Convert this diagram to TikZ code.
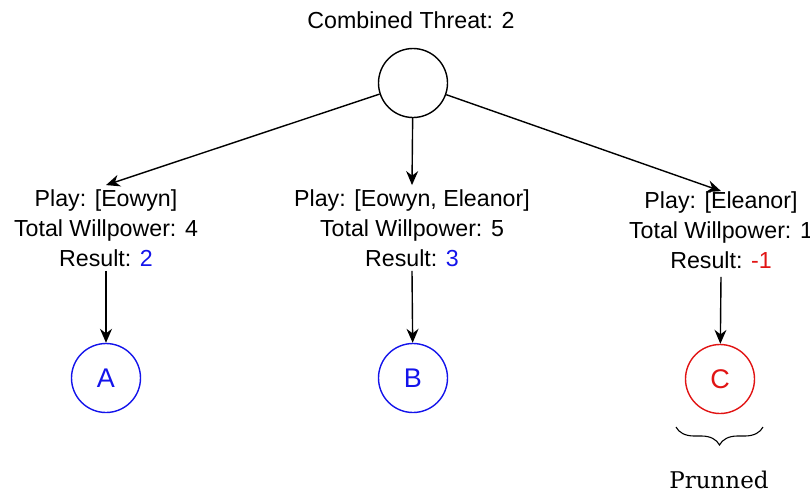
\documentclass[tikz,border=0pt]{standalone}
\usepackage{fontspec}
\setmainfont{Liberation Sans}
\newfontfamily\notefont{DejaVu Serif}
\usetikzlibrary{arrows.meta,decorations.pathreplacing}
\definecolor{resblue}{RGB}{20,20,235}
\definecolor{resred}{RGB}{225,20,20}
\tikzset{
  choice/.style={circle,draw,line width=0.7pt,minimum size=34.5pt,inner sep=0pt,font=\fontsize{13.5}{15}\selectfont},
  info/.style={align=center,inner sep=2pt,font=\fontsize{11.6}{15}\selectfont},
  edge/.style={line width=0.7pt,-{Stealth[length=7pt,width=6pt]}},
}
\begin{document}
\begin{tikzpicture}[x=0.5pt,y=-0.5pt]
  \useasboundingbox (0,0) rectangle (810,494);
  \node[info] (title) at (411,20) {Combined Threat: 2};
  \node[choice] (root) at (413,83) {};
  % the three plays
  \node[info] (playA) at (106,228) {Play: [Eowyn]\\Total Willpower: 4\\Result: \textcolor{resblue}{2}};
  \node[info] (playB) at (412,228) {Play: [Eowyn, Eleanor]\\Total Willpower: 5\\Result: \textcolor{resblue}{3}};
  \node[info] (playC) at (721,230) {Play: [Eleanor]\\Total Willpower: 1\\Result: \textcolor{resred}{-1}};
  \node[choice,draw=resblue,text=resblue] (A) at (106,378) {A};
  \node[choice,draw=resblue,text=resblue] (B) at (413,378) {B};
  \node[choice,draw=resred,text=resred] (C) at (720,379) {C};
  \draw[edge] (root) -- (playA.north);
  \draw[edge] (root) -- (playB.north);
  \draw[edge] (root) -- ([yshift=-2pt]playC.north);
  \draw[edge] (playA.south) -- (A);
  \draw[edge] (playB.south) -- (B);
  \draw[edge] ([yshift=-2pt]playC.south) -- (C);
  % pruned branch
  \draw[line width=0.55pt,decorate,decoration={brace,mirror,amplitude=9pt}] (676,427) -- (763,427);
  \node[font=\notefont\fontsize{11.5}{14}\selectfont] (pruned) at (719,480) {Prunned};
\end{tikzpicture}
\end{document}
